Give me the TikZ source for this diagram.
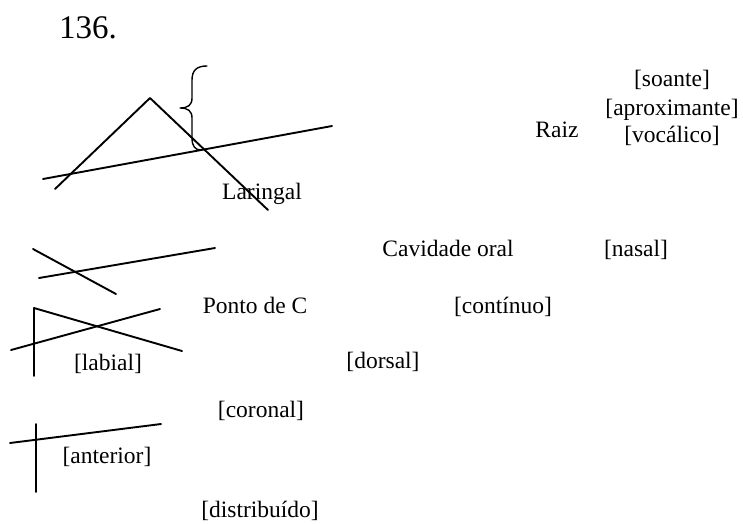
\documentclass[tikz,border=0pt]{standalone}
\usepackage{fontspec}
\setmainfont{Liberation Serif}
\tikzset{
	lab/.style={anchor=base, inner sep=0pt},
}
\begin{document}
\begin{tikzpicture}[x=1pt, y=-1pt, line width=1.9pt, line join=round, line cap=round, font=\fontsize{23.5}{28}\selectfont]
			\useasboundingbox (0,0) rectangle (743,523);
			\path
			(150,98)coordinate(T)
			(55,189)coordinate(TL)
			(268,210)coordinate(TR)
			(43,179)coordinate(L1a)
			(332,126)coordinate(L1b)
			(33,249)coordinate(L2a)
			(116,294)coordinate(L2b)
			(39,278)coordinate(L3a)
			(215,248)coordinate(L3b)
			(34,376)coordinate(F0)
			(34,308)coordinate(F1)
			(182,351)coordinate(F2)
			(11,350)coordinate(L4a)
			(160,309)coordinate(L4b)
			(36,424)coordinate(V1)
			(36,492)coordinate(V2)
			(10,443)coordinate(L5a)
			(161,424)coordinate(L5b)
			;
			% lines
			\draw (TL)--(T)--(TR);
			\draw (L1a)--(L1b);
			\draw (L2a)--(L2b);
			\draw (L3a)--(L3b);
			\draw (F0)--(F1)--(F2);
			\draw (L4a)--(L4b);
			\draw (V1)--(V2);
			\draw (L5a)--(L5b);
			% brace
			\draw[line width=1.4pt] (207,66) .. controls (197,66) and (192,70) .. (192,80) -- (192,98) .. controls (192,105) and (188,108) .. (180,108) .. controls (188,108) and (192,111) .. (192,118) -- (192,138) .. controls (192,146) and (195,150) .. (201,150);
			% labels
			\node[lab, font=\fontsize{33}{38}\selectfont] (num) at (88,38) {136.};
			\node[lab] (lar) at (262,199) {Laringal};
			\node[lab] (raiz) at (557,137) {Raiz};
			\node[lab] (soa) at (672,86) {[soante]};
			\node[lab] (apr) at (672,115) {[aproximante]};
			\node[lab] (voc) at (672,142) {[vocálico]};
			\node[lab] (cav) at (448,256) {Cavidade oral};
			\node[lab] (nas) at (636,256) {[nasal]};
			\node[lab] (pc) at (255,313) {Ponto de C};
			\node[lab] (cont) at (503,313) {[contínuo]};
			\node[lab] (lab) at (108,370) {[labial]};
			\node[lab] (dor) at (383,368) {[dorsal]};
			\node[lab] (cor) at (261,417) {[coronal]};
			\node[lab] (ant) at (107,463) {[anterior]};
			\node[lab] (dis) at (260,517) {[distribuído]};
			\end{tikzpicture}
\end{document}
